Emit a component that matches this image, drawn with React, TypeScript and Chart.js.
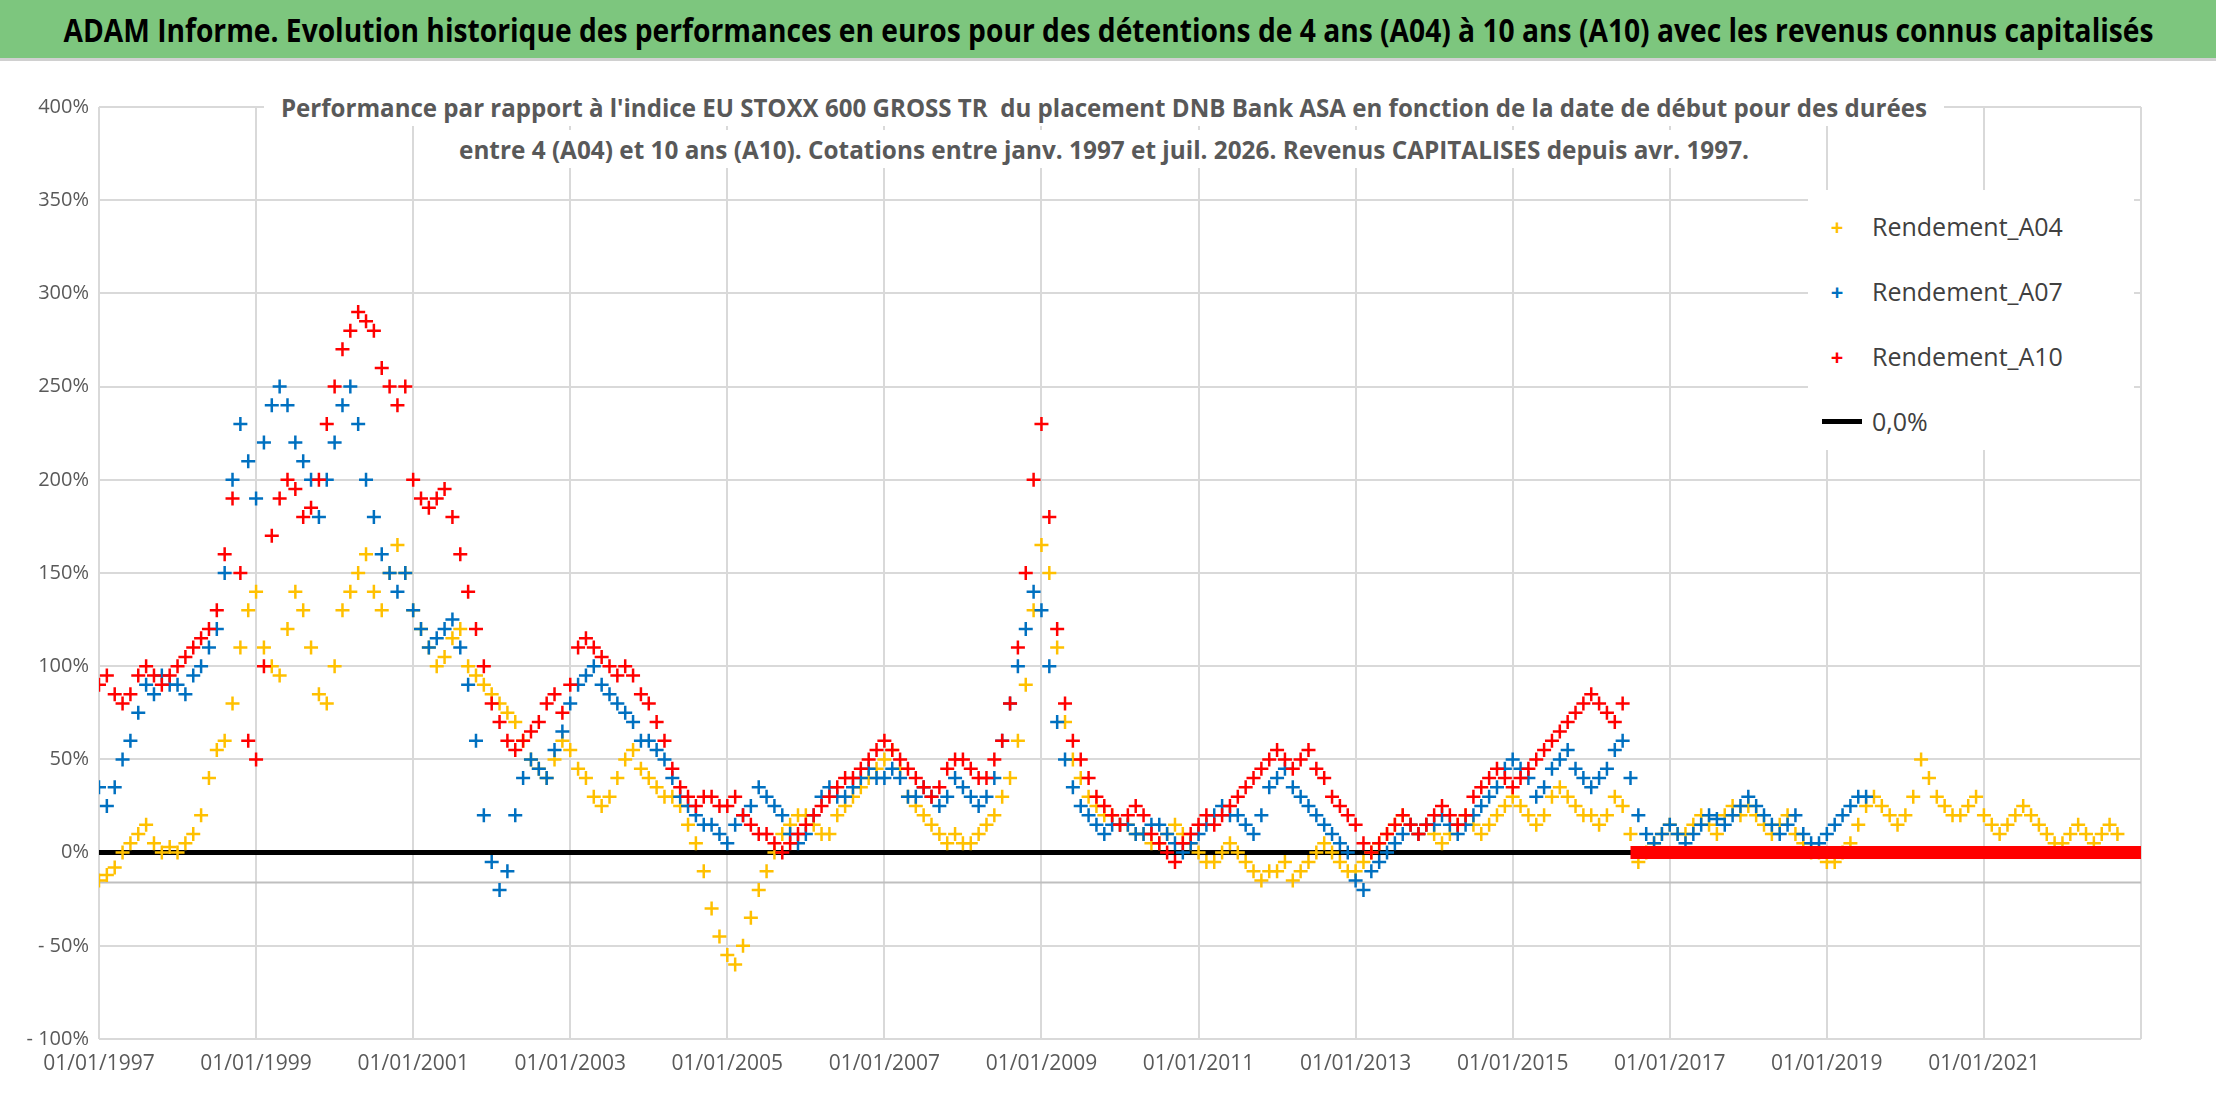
import React, { useEffect, useRef } from "react";
import { Chart, registerables } from "chart.js";
Chart.register(...registerables);

const START = 1997.0;
const STEP = 0.1;
const A04 = [
  -15, -12, -8, 0, 5, 10, 15, 5, 0, 3,
  0, 5, 10, 20, 40, 55, 60, 80, 110, 130,
  140, 110, 100, 95, 120, 140, 130, 110, 85, 80,
  100, 130, 140, 150, 160, 140, 130, 150, 165, 150,
  130, 120, 110, 100, 105, 115, 120, 100, 95, 90,
  85, 80, 75, 70, 60, 50, 45, 40, 50, 60,
  55, 45, 40, 30, 25, 30, 40, 50, 55, 45,
  40, 35, 30, 30, 25, 15, 5, -10, -30, -45,
  -55, -60, -50, -35, -20, -10, 0, 10, 15, 20,
  20, 15, 10, 10, 20, 25, 30, 35, 40, 45,
  50, 55, 45, 30, 25, 20, 15, 10, 5, 10,
  5, 5, 10, 15, 20, 30, 40, 60, 90, 130,
  165, 150, 110, 70, 50, 40, 30, 25, 20, 20,
  15, 15, 10, 10, 5, 5, 10, 15, 10, 5,
  0, -5, -5, 0, 5, 0, -5, -10, -15, -10,
  -10, -5, -15, -10, -5, 0, 5, 0, -5, -10,
  -10, -5, 0, 5, 10, 15, 20, 15, 10, 15,
  10, 5, 10, 15, 20, 15, 10, 15, 20, 25,
  30, 25, 20, 15, 20, 30, 35, 30, 25, 20,
  20, 15, 20, 30, 25, 10, -5, 0, 5, 10,
  15, 10, 10, 15, 20, 15, 10, 20, 25, 20,
  25, 20, 15, 10, 15, 20, 10, 5, 0, 0,
  -5, -5, 0, 5, 15, 25, 30, 25, 20, 15,
  20, 30, 50, 40, 30, 25, 20, 20, 25, 30,
  20, 15, 10, 15, 20, 25, 20, 15, 10, 5,
  5, 10, 15, 10, 5, 10, 15, 10,
];
const A07 = [
  35, 25, 35, 50, 60, 75, 90, 85, 95, 90,
  90, 85, 95, 100, 110, 120, 150, 200, 230, 210,
  190, 220, 240, 250, 240, 220, 210, 200, 180, 200,
  220, 240, 250, 230, 200, 180, 160, 150, 140, 150,
  130, 120, 110, 115, 120, 125, 110, 90, 60, 20,
  -5, -20, -10, 20, 40, 50, 45, 40, 55, 65,
  80, 90, 95, 100, 90, 85, 80, 75, 70, 60,
  60, 55, 50, 40, 30, 25, 20, 15, 15, 10,
  5, 15, 20, 25, 35, 30, 25, 20, 10, 5,
  10, 20, 30, 35, 30, 30, 35, 40, 45, 40,
  40, 45, 40, 30, 30, 35, 30, 25, 30, 40,
  35, 30, 25, 30, 40, 60, 80, 100, 120, 140,
  130, 100, 70, 50, 35, 25, 20, 15, 10, 15,
  15, 15, 10, 10, 15, 15, 10, 5, 0, 5,
  10, 15, 20, 25, 20, 20, 15, 10, 20, 35,
  40, 45, 35, 30, 25, 20, 15, 10, 5, 0,
  -15, -20, -10, -5, 0, 5, 10, 15, 10, 15,
  15, 20, 15, 10, 15, 20, 25, 30, 35, 45,
  50, 45, 40, 30, 35, 45, 50, 55, 45, 40,
  35, 40, 45, 55, 60, 40, 20, 10, 5, 10,
  15, 10, 5, 10, 15, 20, 18, 15, 20, 25,
  30, 25, 20, 15, 10, 15, 20, 10, 5, 5,
  10, 15, 20, 25, 30, 30,
];
const A10 = [
  90, 95, 85, 80, 85, 95, 100, 95, 90, 95,
  100, 105, 110, 115, 120, 130, 160, 190, 150, 60,
  50, 100, 170, 190, 200, 195, 180, 185, 200, 230,
  250, 270, 280, 290, 285, 280, 260, 250, 240, 250,
  200, 190, 185, 190, 195, 180, 160, 140, 120, 100,
  80, 70, 60, 55, 60, 65, 70, 80, 85, 75,
  90, 110, 115, 110, 105, 100, 95, 100, 95, 85,
  80, 70, 60, 45, 35, 30, 25, 30, 30, 25,
  25, 30, 20, 15, 10, 10, 5, 0, 5, 10,
  15, 20, 25, 30, 35, 40, 40, 45, 50, 55,
  60, 55, 50, 45, 40, 35, 30, 35, 45, 50,
  50, 45, 40, 40, 50, 60, 80, 110, 150, 200,
  230, 180, 120, 80, 60, 50, 40, 30, 25, 20,
  15, 20, 25, 20, 10, 5, 0, -5, 5, 10,
  15, 20, 15, 20, 25, 30, 35, 40, 45, 50,
  55, 50, 45, 50, 55, 45, 40, 30, 25, 20,
  15, 5, 0, 5, 10, 15, 20, 15, 10, 15,
  20, 25, 20, 15, 20, 30, 35, 40, 45, 40,
  35, 40, 45, 50, 55, 60, 65, 70, 75, 80,
  85, 80, 75, 70, 80,
];
const A10_ZERO_FROM = 2016.5;
const X_MIN = 1997;
const X_MAX = 2023;
const ZERO_LINE = 0;
const GREY_LINE = -16;
const Y_TICKS = [-100, -50, 0, 50, 100, 150, 200, 250, 300, 350, 400];

const toPts = (arr: number[]) => arr.map((v, i) => ({ x: START + i * STEP, y: v }));

function FitText({ text, width, style }: { text: string; width: number; style: React.CSSProperties }) {
  const r = useRef<HTMLSpanElement>(null);
  useEffect(() => {
    const el = r.current!;
    const w = el.getBoundingClientRect().width;
    el.style.transform = `scaleX(${width / w})`;
  }, [text, width]);
  return (
    <span ref={r} style={{ display: "inline-block", whiteSpace: "nowrap", transformOrigin: "center", ...style }}>
      {text}
    </span>
  );
}

export default function App() {
  const ref = useRef<HTMLCanvasElement>(null);
  useEffect(() => {
    const cross = { pointStyle: "cross" as const, pointRadius: 7, pointBorderWidth: 2.5, showLine: false };
    const font = { family: "Open Sans" };
    const chart = new Chart(ref.current!, {
      type: "scatter",
      data: {
        datasets: [
          { label: "grey", order: 6, data: [{ x: X_MIN, y: GREY_LINE }, { x: X_MAX, y: GREY_LINE }], showLine: true, borderColor: "#bfbfbf", borderWidth: 2, pointRadius: 0 },
          { label: "0,0%", order: 5, data: [{ x: X_MIN, y: ZERO_LINE }, { x: X_MAX, y: ZERO_LINE }], showLine: true, borderColor: "#000", borderWidth: 5, pointRadius: 0 },
          { label: "Rendement_A04", order: 4, data: toPts(A04), borderColor: "#FFC000", backgroundColor: "#FFC000", ...cross },
          { label: "Rendement_A07", order: 3, data: toPts(A07), borderColor: "#0070C0", backgroundColor: "#0070C0", ...cross },
          { label: "Rendement_A10", order: 2, data: toPts(A10), borderColor: "#FF0000", backgroundColor: "#FF0000", ...cross },
          { label: "A10z", order: 1, data: [{ x: A10_ZERO_FROM, y: 0 }, { x: X_MAX, y: 0 }], showLine: true, borderColor: "#FF0000", borderWidth: 13, pointRadius: 0 },
        ],
      },
      options: {
        animation: false,
        responsive: false,
        layout: { padding: { left: 0, right: 75, top: 107, bottom: 0 } },
        plugins: { legend: { display: false }, tooltip: { enabled: false } },
        scales: {
          x: {
            type: "linear", min: X_MIN, max: X_MAX,
            afterFit: (s: any) => { s.height = 63; },
            ticks: { stepSize: 2, color: "#595959", font: { ...font, size: 21 }, maxRotation: 0, padding: 12, callback: (v: any) => (Number(v) % 2 === 1 && Number(v) < X_MAX ? "01/01/" + v : "") },
            grid: { color: "#d9d9d9", lineWidth: 2, drawTicks: false },
            border: { display: false },
          },
          y: {
            min: -100, max: 400,
            afterFit: (s: any) => { s.width = 99; },
            afterBuildTicks: (s: any) => { s.ticks = Y_TICKS.map((v) => ({ value: v })); },
            ticks: { color: "#595959", font: { ...font, size: 20 }, padding: 10, callback: (v: any) => (v < 0 ? "- " + -v + "%" : v + "%") },
            grid: { color: "#d9d9d9", lineWidth: 2, drawTicks: false },
            border: { display: false },
          },
        },
      },
    });
    return () => chart.destroy();
  }, []);

  const legend = [
    { c: "#FFC000", t: "Rendement_A04", line: false },
    { c: "#0070C0", t: "Rendement_A07", line: false },
    { c: "#FF0000", t: "Rendement_A10", line: false },
    { c: "#000", t: "0,0%", line: true },
  ];
  return (
    <div style={{ position: "fixed", left: 0, top: 0, width: 2216, height: 1102, background: "#fff", overflow: "hidden", fontFamily: "Open Sans" }}>
      <canvas ref={ref} width={2216} height={1102} style={{ position: "absolute", left: 0, top: 0 }} />
      <div style={{ position: "absolute", left: 0, top: 0, width: 2216, height: 58, background: "#7DC67E", borderBottom: "3px solid #d0d0d0", display: "flex", alignItems: "center", justifyContent: "center" }}>
        <FitText width={2090} text="ADAM Informe. Evolution historique des performances en euros pour des détentions de 4 ans (A04) à 10 ans (A10) avec les revenus connus capitalisés" style={{ fontWeight: "bold", fontSize: 32, color: "#000" }} />
      </div>
      <div style={{ position: "absolute", left: 1104 - 840, width: 1680, top: 88, height: 38, background: "#fff", display: "flex", justifyContent: "center", alignItems: "center" }}>
        <FitText width={1646} text={"Performance par rapport à l'indice EU STOXX 600 GROSS TR\u00a0 du placement DNB Bank ASA en fonction de la date de début pour des durées"} style={{ fontWeight: "bold", fontSize: 25, color: "#595959" }} />
      </div>
      <div style={{ position: "absolute", left: 1104 - 670, width: 1340, top: 130, height: 38, background: "#fff", display: "flex", justifyContent: "center", alignItems: "center" }}>
        <FitText width={1290} text="entre 4 (A04) et 10 ans (A10). Cotations entre janv. 1997 et juil. 2026. Revenus CAPITALISES depuis avr. 1997." style={{ fontWeight: "bold", fontSize: 25, color: "#595959" }} />
      </div>
      <div style={{ position: "absolute", left: 1808, top: 190, width: 326, height: 260, background: "#fff" }}>
        {legend.map((l, i) => (
          <div key={i} style={{ position: "absolute", left: 14, top: 16 + i * 65, height: 40, display: "flex", alignItems: "center", fontSize: 25, color: "#404040" }}>
            {l.line ? (
              <span style={{ display: "inline-block", width: 40, height: 5, background: l.c, marginRight: 10 }} />
            ) : (
              <span style={{ display: "inline-block", width: 30, marginRight: 20, textAlign: "center", color: l.c, fontSize: 22, fontWeight: "bold" }}>+</span>
            )}
            {l.t}
          </div>
        ))}
      </div>
    </div>
  );
}
